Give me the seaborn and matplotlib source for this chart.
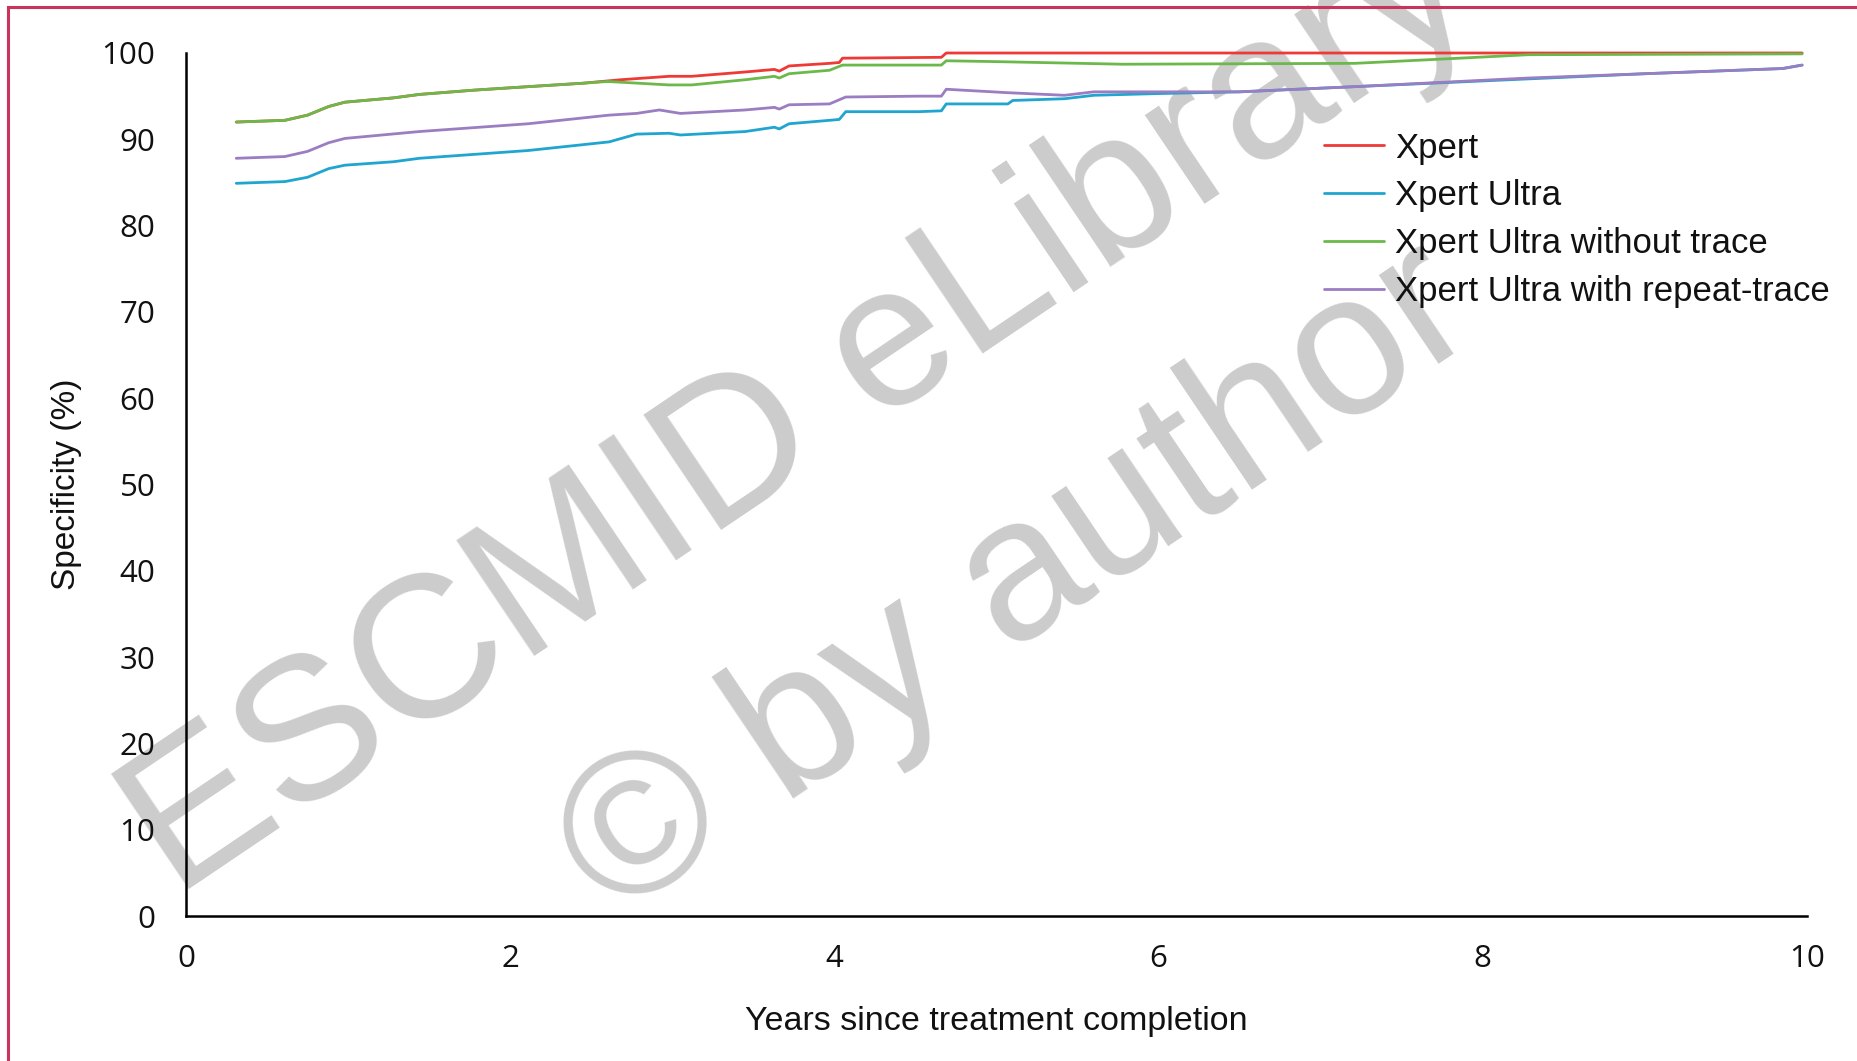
import numpy as np
import pandas as pd
import matplotlib
matplotlib.use("Agg")
import matplotlib.pyplot as plt
import seaborn as sns
from matplotlib.patches import Rectangle

# ---------------- data ----------------
series_names = ["Xpert", "Xpert Ultra", "Xpert Ultra without trace", "Xpert Ultra with repeat-trace"]

xpert_x = [0.31, 0.61, 0.75, 0.88, 0.98, 1.28, 1.44, 1.78, 2.11, 2.45, 2.68, 2.98, 3.12, 3.45, 3.63,
           3.66, 3.72, 3.97, 4.03, 4.05, 4.66, 4.69, 9.97]
xpert_y = [92.0, 92.2, 92.8, 93.8, 94.3, 94.8, 95.2, 95.7, 96.1, 96.5, 96.9, 97.3, 97.3, 97.8, 98.1,
           97.9, 98.5, 98.8, 98.9, 99.4, 99.5, 100.0, 100.0]

ultra_x = [0.31, 0.61, 0.75, 0.88, 0.98, 1.28, 1.44, 2.11, 2.61, 2.78, 2.98, 3.05, 3.45, 3.63, 3.66,
           3.72, 3.97, 4.03, 4.07, 4.52, 4.66, 4.69, 5.07, 5.10, 5.42, 5.60, 6.00, 6.50, 7.21, 8.28,
           9.00, 9.85, 9.97]
ultra_y = [84.9, 85.1, 85.6, 86.6, 87.0, 87.4, 87.8, 88.7, 89.7, 90.6, 90.7, 90.5, 90.9, 91.4, 91.2,
           91.8, 92.2, 92.3, 93.2, 93.2, 93.3, 94.1, 94.1, 94.5, 94.7, 95.1, 95.3, 95.5, 96.1, 97.0,
           97.6, 98.2, 98.6]

notrace_x = [0.31, 0.61, 0.75, 0.88, 0.98, 1.28, 1.44, 1.78, 2.11, 2.45, 2.60, 2.98, 3.12, 3.45, 3.63,
             3.66, 3.72, 3.97, 4.05, 4.66, 4.69, 5.00, 5.78, 7.21, 7.75, 8.28, 9.97]
notrace_y = [92.0, 92.2, 92.8, 93.8, 94.3, 94.8, 95.2, 95.7, 96.1, 96.5, 96.7, 96.3, 96.3, 96.9, 97.3,
             97.1, 97.6, 98.0, 98.6, 98.6, 99.1, 99.0, 98.7, 98.8, 99.3, 99.8, 99.9]

repeat_x = [0.31, 0.61, 0.75, 0.88, 0.98, 1.44, 2.11, 2.61, 2.78, 2.92, 3.05, 3.45, 3.63, 3.66, 3.72,
            3.97, 4.07, 4.52, 4.66, 4.69, 5.07, 5.42, 5.60, 6.50, 7.21, 8.28, 9.00, 9.85, 9.97]
repeat_y = [87.8, 88.0, 88.6, 89.6, 90.1, 90.9, 91.8, 92.8, 93.0, 93.4, 93.0, 93.4, 93.7, 93.5, 94.0,
            94.1, 94.9, 95.0, 95.0, 95.8, 95.4, 95.1, 95.5, 95.5, 96.1, 97.1, 97.6, 98.2, 98.6]

x_ticks = [0, 2, 4, 6, 8, 10]
y_ticks = [0, 10, 20, 30, 40, 50, 60, 70, 80, 90, 100]

colors = {"Xpert": "#ee3a36", "Xpert Ultra": "#1fa5cf",
          "Xpert Ultra without trace": "#6cb94b", "Xpert Ultra with repeat-trace": "#9b7dc2"}

frames = []
for name, xs, ys in zip(series_names,
                        [xpert_x, ultra_x, notrace_x, repeat_x],
                        [xpert_y, ultra_y, notrace_y, repeat_y]):
    frames.append(pd.DataFrame({"years": xs, "spec": ys, "series": name}))
df = pd.concat(frames, ignore_index=True)

# ---------------- style ----------------
sns.set_theme(style="white")
plt.rcParams["font.family"] = ["Open Sans", "DejaVu Sans"]
label_family = ["Liberation Sans", "DejaVu Sans"]

fig = plt.figure(figsize=(18.58, 10.61), dpi=100)
ax = fig.add_axes([186 / 1858, 1 - 916 / 1061, (1807 - 186) / 1858, (916 - 53) / 1061])
ax.set_facecolor("none")

sns.lineplot(data=df, x="years", y="spec", hue="series", hue_order=series_names,
             palette=colors, sort=False, estimator=None, units="series",
             linewidth=2.0, ax=ax, legend=True, zorder=3)
for ln in ax.lines:
    ln.set_clip_on(False)

ax.set_xlim(0, 10)
ax.set_ylim(0, 100)
ax.set_xticks(x_ticks)
ax.set_yticks(y_ticks)
ax.set_xticklabels([str(t) for t in x_ticks], fontsize=22.5, color="#111111")
ax.set_yticklabels([str(t) for t in y_ticks], fontsize=22.5, color="#111111")
ax.tick_params(axis="x", direction="out", length=19, width=1.6, color="black", pad=1)
ax.tick_params(axis="y", direction="out", length=16, width=1.6, color="black", pad=6)
for s in ["top", "right"]:
    ax.spines[s].set_visible(False)
for s in ["left", "bottom"]:
    ax.spines[s].set_color("black")
    ax.spines[s].set_linewidth(1.8)

ax.set_xlabel("Years since treatment completion", fontsize=24.5, family=label_family,
              color="#111111", labelpad=23)
ax.set_ylabel("Specificity (%)", fontsize=24, family=label_family, color="#111111", labelpad=14)

leg = ax.legend(loc="upper left", bbox_to_anchor=(0.702, 0.909), frameon=False,
                prop={"family": label_family, "size": 25}, handlelength=1.73, handletextpad=0.32,
                labelspacing=0.43, borderpad=0, borderaxespad=0)
for t in leg.get_texts():
    t.set_color("#111111")
for h in leg.get_lines():
    h.set_linewidth(2.0)

# watermark
ax.text(800 / 1858, 1 - 414 / 1061, "ESCMID eLibrary", transform=fig.transFigure, rotation=34,
        rotation_mode="anchor", ha="center", va="center", fontsize=146, family="Liberation Sans",
        color="#cccccc", zorder=0.5, clip_on=False)
ax.text(1019 / 1858, 1 - 584 / 1061, "\u00a9 by author", transform=fig.transFigure, rotation=34,
        rotation_mode="anchor", ha="center", va="center", fontsize=146, family="Liberation Sans",
        color="#cccccc", zorder=0.5, clip_on=False)

# border frame
fig.patches.append(Rectangle((8 / 1858, -0.05), 1.2, 1 - 7 / 1061 + 0.05, transform=fig.transFigure,
                             fill=False, edgecolor="#c9335c", linewidth=2.2, zorder=10))

fig.savefig("out.png", dpi=100)
